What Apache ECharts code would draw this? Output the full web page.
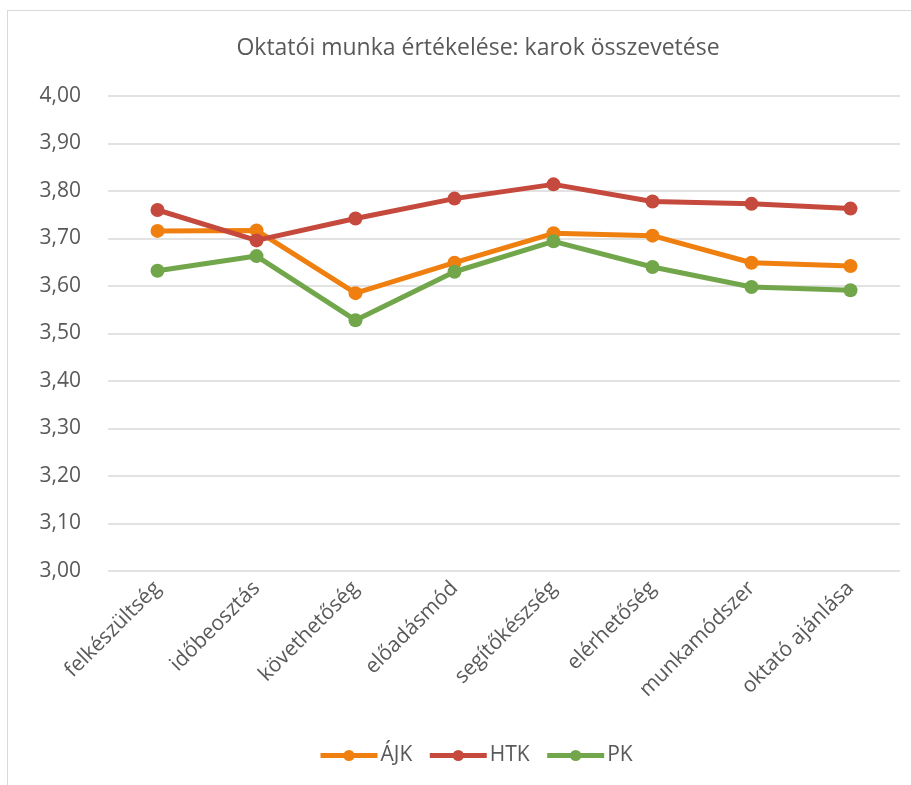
<!DOCTYPE html>
<html>
<head>
<meta charset="utf-8">
<script src="https://cdn.jsdelivr.net/npm/echarts@6/dist/echarts.min.js"></script>
<style>
html,body{margin:0;padding:0;background:#fff;}
#frame{position:absolute;left:7px;top:10px;width:960px;height:820px;border:1px solid #d9d9d9;}
#main{position:absolute;left:0;top:0;width:911px;height:785px;}
</style>
</head>
<body>
<div id="frame"></div>
<div id="main"></div>
<script>
var categories=['felkészültség','időbeosztás','követhetőség','előadásmód','segítőkészség','elérhetőség','munkamódszer','oktató ajánlása'];
var ajk=[3.716,3.717,3.585,3.649,3.711,3.706,3.649,3.642];
var htk=[3.760,3.696,3.742,3.784,3.814,3.778,3.773,3.763];
var pk=[3.632,3.663,3.528,3.630,3.694,3.640,3.598,3.591];

var chart=echarts.init(document.getElementById('main'),null,{renderer:'canvas'});

function serie(name,data,color){
    return {
        name:name,
        type:'line',
        data:data,
        symbol:'circle',
        symbolSize:14,
        lineStyle:{width:5,color:color},
        itemStyle:{color:color},
        emphasis:{disabled:true}
    };
}

var option={
    animation:false,
    textStyle:{fontFamily:'Open Sans'},
    title:{
        text:'Oktatói munka értékelése: karok összevetése',
        left:473,
        textAlign:'center',
        top:32,
        textStyle:{fontSize:23,fontWeight:'normal',color:'#595959',fontFamily:'Open Sans'}
    },
    legend:{
        top:740,
        left:313,
        itemWidth:57,
        itemHeight:14,
        itemGap:15,
        lineStyle:{width:5},
        textStyle:{fontSize:21,color:'#595959',padding:[0,0,0,-2]},
        data:['ÁJK','HTK','PK']
    },
    grid:{left:108,right:11,top:96,bottom:214,containLabel:false},
    xAxis:{
        type:'category',
        data:categories,
        boundaryGap:true,
        axisLine:{show:false},
        axisTick:{show:false},
        axisLabel:{rotate:45,fontSize:21,color:'#595959',margin:14,interval:0}
    },
    yAxis:{
        type:'value',
        min:3,
        max:4,
        interval:0.1,
        axisLine:{show:false},
        axisTick:{show:false},
        splitLine:{lineStyle:{color:'#d9d9d9',width:1.5}},
        axisLabel:{
            fontSize:21,color:'#595959',margin:27,
            formatter:function(v){return v.toFixed(2).replace('.',',');}
        }
    },
    series:[
        serie('ÁJK',ajk,'#EF8010'),
        serie('HTK',htk,'#C5493C'),
        serie('PK',pk,'#72A64B')
    ]
};

chart.setOption(option);
</script>
</body>
</html>
